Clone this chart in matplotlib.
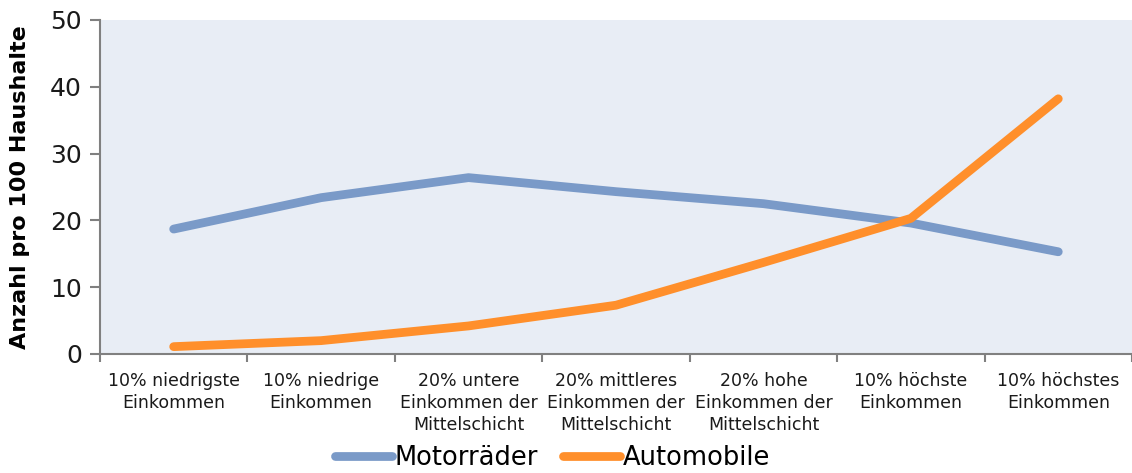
import numpy as np
import matplotlib.pyplot as plt

# Daten
kategorien = ["10% niedrigste\nEinkommen", "10% niedrige\nEinkommen",
              "20% untere\nEinkommen der\nMittelschicht",
              "20% mittleres\nEinkommen der\nMittelschicht",
              "20% hohe\nEinkommen der\nMittelschicht",
              "10% höchste\nEinkommen", "10% höchstes\nEinkommen"]
motorraeder = [18.7, 23.4, 26.4, 24.3, 22.5, 19.6, 15.3]
automobile = [1.1, 2.0, 4.2, 7.3, 13.7, 20.3, 38.2]

plt.rcParams['font.family'] = ['DejaVu Sans']

fig = plt.figure(figsize=(11.32, 4.73), dpi=100)
ax = fig.add_axes([0.0883, 0.2516, 0.9117, 0.7062])
ax.set_facecolor('#E8EDF5')

x = np.arange(len(kategorien))
ax.plot(x, motorraeder, color='#7A9AC8', lw=6.3, solid_capstyle='round', label='Motorräder')
ax.plot(x, automobile, color='#FF8F2B', lw=6.3, solid_capstyle='round', label='Automobile')

ax.set_xlim(-0.5, len(kategorien) - 0.5)
ax.set_ylim(0, 50)
ax.set_yticks([0, 10, 20, 30, 40, 50])
ax.set_xticks(x)
ax.set_xticklabels(kategorien, fontsize=12.5, color='#1a1a1a', linespacing=1.28)
ax.set_xticks(np.arange(-0.5, len(kategorien)), minor=True)
ax.tick_params(axis='x', which='major', length=0, pad=13)
ax.tick_params(axis='x', which='minor', length=6, width=1.5, color='#808080')
ax.tick_params(axis='y', length=7, width=1.5, color='#808080', labelsize=18, pad=6,
               labelcolor='#1a1a1a')

for s in ['top', 'right']:
    ax.spines[s].set_visible(False)
for s in ['left', 'bottom']:
    ax.spines[s].set_color('#808080')
    ax.spines[s].set_linewidth(1.5)

ax.set_ylabel('Anzahl pro 100 Haushalte', fontsize=16, fontweight='bold')
ax.yaxis.set_label_coords(-0.068, 0.5)

fig.legend(loc='lower center', bbox_to_anchor=(0.488, -0.045), ncol=2, frameon=False,
           fontsize=18.5, handlelength=2.2, handletextpad=0.1, columnspacing=1.0)

fig.savefig('out.png', dpi=100)
